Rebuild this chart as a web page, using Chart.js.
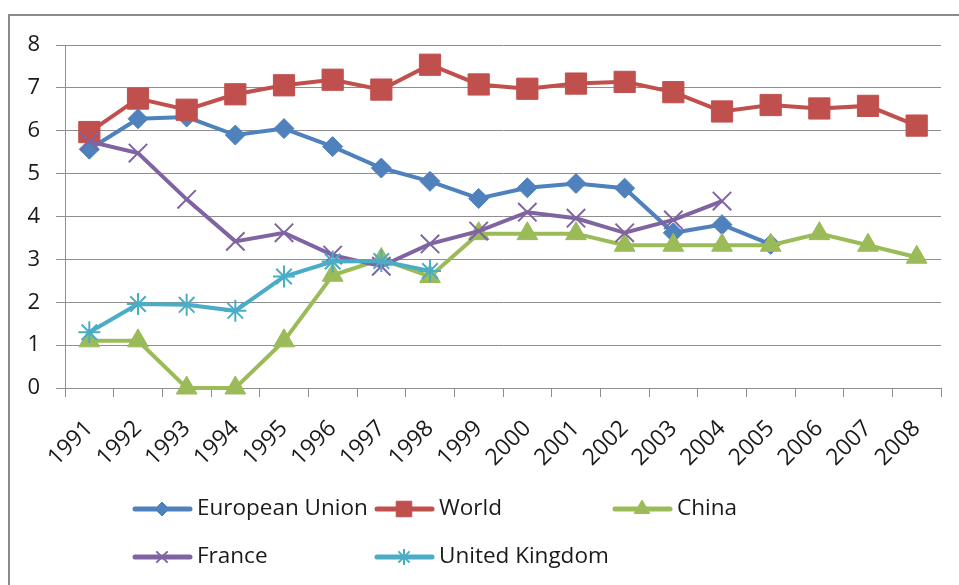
<!DOCTYPE html>
<html>
<head>
<meta charset="utf-8">
<script src="https://cdn.jsdelivr.net/npm/chart.js@4/dist/chart.umd.min.js"></script>
<style>
  html, body { margin: 0; padding: 0; background: #fff; overflow: hidden; }
  #frame {
    position: absolute; left: 8px; top: 14px;
    width: 1000px; height: 640px;
    border: 2px solid #8a8a8a;
  }
  #wrap { position: absolute; left: 0; top: 0; width: 959px; height: 585px; }
</style>
</head>
<body>
<div id="frame"></div>
<div id="wrap"><canvas id="chart" width="959" height="585"></canvas></div>
<script>
const years = ['1991', '1992', '1993', '1994', '1995', '1996', '1997', '1998', '1999',
  '2000', '2001', '2002', '2003', '2004', '2005', '2006', '2007', '2008'];

const europeanUnion = [5.57, 6.28, 6.32, 5.9, 6.05, 5.63, 5.13, 4.82, 4.42,
  4.67, 4.77, 4.66, 3.62, 3.81, 3.35, null, null, null];
const world = [5.97, 6.75, 6.49, 6.85, 7.06, 7.19, 6.96, 7.54, 7.08,
  6.98, 7.1, 7.14, 6.9, 6.45, 6.6, 6.52, 6.58, 6.12];
const china = [1.1, 1.1, 0, 0, 1.1, 2.63, 3.0, 2.6, 3.6,
  3.6, 3.6, 3.33, 3.33, 3.33, 3.33, 3.6, 3.33, 3.05];
const france = [5.75, 5.48, 4.4, 3.42, 3.62, 3.1, 2.84, 3.36, 3.66,
  4.1, 3.96, 3.62, 3.92, 4.36, null, null, null, null];
const unitedKingdom = [1.3, 1.96, 1.94, 1.8, 2.6, 2.95, 2.96, 2.73, null,
  null, null, null, null, null, null, null, null, null];

const yTicks = [0, 1, 2, 3, 4, 5, 6, 7, 8];

const FONT = '"Open Sans", "DejaVu Sans", sans-serif';
const GRID = '#8e8e8e';

function series(label, data, color, style, radius, border, order) {
  return {
    label: label,
    data: data,
    borderColor: color,
    backgroundColor: color,
    borderWidth: 4,
    pointStyle: style,
    pointRadius: radius,
    pointHoverRadius: radius,
    pointBorderColor: color,
    pointBackgroundColor: color,
    pointBorderWidth: border,
    spanGaps: false,
    clip: false,
    order: order,
    tension: 0
  };
}

// legend slots: [x of line start, y]
const legendSlots = [[135, 509], [377, 509], [615, 509], [135, 557], [377, 557]];
const legendMarkerRadius = [7, 11, 9, 8, 8];

const legendGrid = {
  id: 'legendGrid',
  afterDraw(chart) {
    const ctx = chart.ctx;
    const helpers = Chart.helpers;
    chart.data.datasets.forEach((ds, i) => {
      const [x, y] = legendSlots[i];
      ctx.save();
      ctx.strokeStyle = ds.borderColor;
      ctx.lineWidth = 5;
      ctx.lineCap = 'round';
      ctx.beginPath();
      ctx.moveTo(x, y);
      ctx.lineTo(x + 55, y);
      ctx.stroke();
      ctx.lineCap = 'butt';
      const opts = {
        pointStyle: ds.pointStyle,
        radius: legendMarkerRadius[i],
        rotation: 0,
        borderWidth: ds.pointBorderWidth
      };
      ctx.fillStyle = ds.pointBackgroundColor;
      ctx.strokeStyle = ds.pointBorderColor;
      ctx.lineWidth = ds.pointBorderWidth;
      if (helpers && helpers.drawPoint) {
        helpers.drawPoint(ctx, opts, x + 27, y);
      }
      ctx.fillStyle = '#1a1a1a';
      ctx.font = '22.5px ' + FONT;
      ctx.textBaseline = 'middle';
      ctx.textAlign = 'left';
      ctx.fillText(ds.label, x + 62, y);
      ctx.restore();
    });
  }
};

new Chart(document.getElementById('chart'), {
  type: 'line',
  data: {
    labels: years,
    datasets: [
      series('European Union', europeanUnion, '#4F81BD', 'rectRot', 10, 1, 5),
      series('World', world, '#C0504D', 'rect', 15, 1, 4),
      series('China', china, '#9BBB59', 'triangle', 12, 1, 3),
      series('France', france, '#8064A2', 'crossRot', 13, 2, 2),
      series('United Kingdom', unitedKingdom, '#4BACC6', 'star', 11, 2, 1)
    ]
  },
  options: {
    responsive: false,
    animation: false,
    events: [],
    layout: { padding: { left: 0, top: 45, right: 18, bottom: 0 } },
    plugins: {
      legend: { display: false },
      tooltip: { enabled: false },
      title: { display: false }
    },
    scales: {
      x: {
        offset: true,
        grid: {
          offset: true,
          drawOnChartArea: false,
          drawTicks: true,
          tickLength: 9,
          color: GRID,
          lineWidth: 1
        },
        border: { display: true, color: GRID, width: 1 },
        ticks: {
          autoSkip: false,
          maxRotation: 45,
          minRotation: 45,
          padding: 18,
          color: '#1a1a1a',
          font: { family: FONT, size: 23 }
        },
        afterFit(scale) { scale.height = 197; }
      },
      y: {
        min: yTicks[0],
        max: yTicks[yTicks.length - 1],
        afterBuildTicks(scale) { scale.ticks = yTicks.map(v => ({ value: v })); },
        grid: {
          color: GRID,
          lineWidth: 1,
          drawTicks: true,
          tickLength: 9
        },
        border: { display: true, color: GRID, width: 1 },
        ticks: {
          padding: 16,
          color: '#1a1a1a',
          font: { family: FONT, size: 22 }
        },
        afterFit(scale) { scale.width = 65; }
      }
    }
  },
  plugins: [legendGrid]
});
</script>
</body>
</html>
